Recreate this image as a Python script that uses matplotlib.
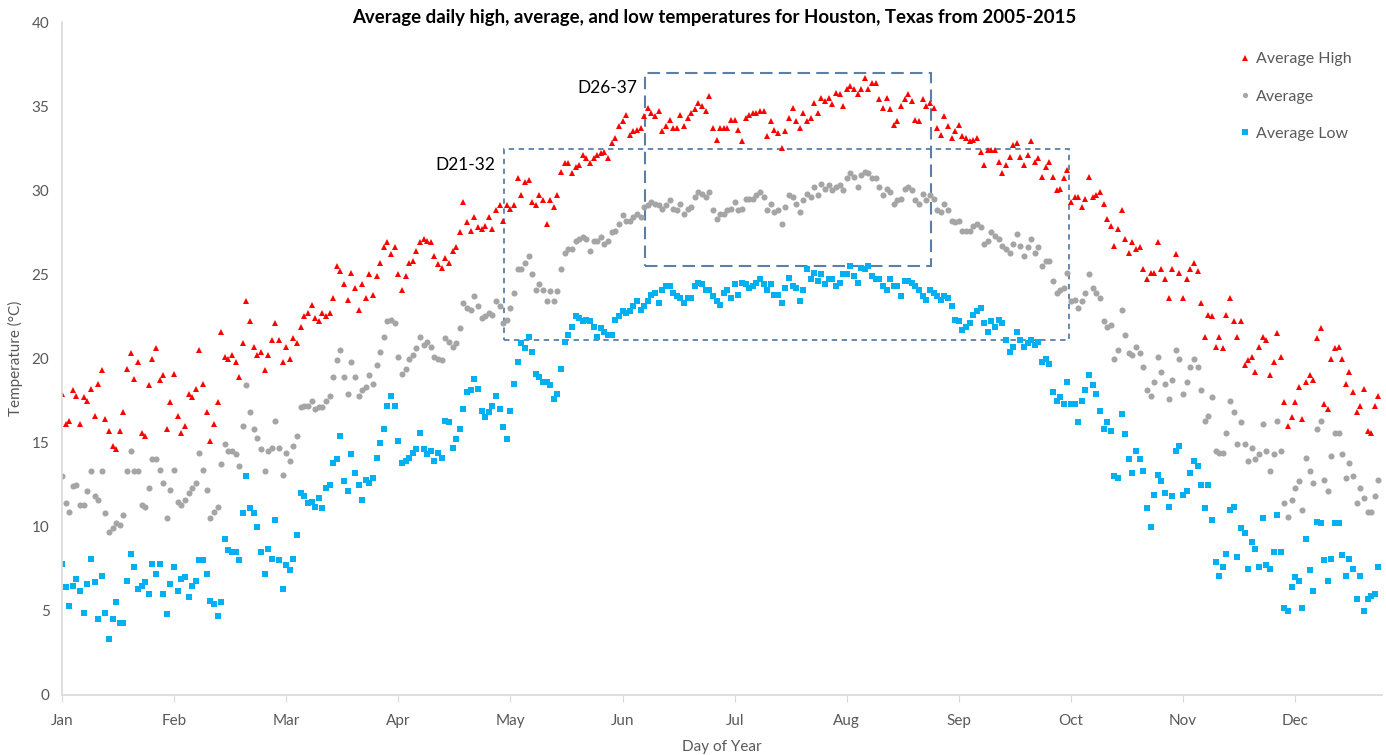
import numpy as np
import matplotlib
matplotlib.use("Agg")
import matplotlib.pyplot as plt
from matplotlib.patches import Rectangle

plt.rcParams['font.family'] = ['Lato', 'DejaVu Sans']

# daily values, split into chunks of days
high = [
    17.9,16.1,16.3,18.1,17.8,16.1,17.7,17.5,18.2,16.6,18.5,19.3,16.4,15.7,14.8,14.6,15.7,16.8,19.4,20.3,18.8,19.8,15.6,15.4,18.4,20.0,20.6,18.7,19.0,15.8,17.4,19.1,16.6,15.6,16.0,17.9,17.7,18.2,20.5,18.5,16.8,15.1,16.1,17.4,21.6,20.1,20.0,20.2,19.8,
    18.9,20.9,23.4,22.2,20.7,20.2,20.4,19.3,20.2,21.1,22.1,21.1,19.8,20.7,20.0,21.2,20.9,21.9,22.5,22.7,23.2,22.4,22.2,22.7,22.5,22.7,23.6,25.5,25.2,24.4,23.5,25.1,24.2,22.9,24.4,23.6,25.0,23.8,24.9,25.7,26.6,26.9,26.2,26.6,25.0,24.1,24.9,25.7,
    25.8,26.4,26.9,27.1,27.0,26.9,26.1,25.6,25.4,26.0,25.7,26.4,26.6,27.5,29.3,28.1,27.6,28.4,27.8,27.7,27.9,28.4,27.7,28.8,29.1,28.2,29.1,28.9,29.1,30.7,29.7,30.5,30.6,29.3,29.1,29.7,29.4,28.0,29.4,29.0,29.7,31.1,31.6,31.6,31.0,31.4,31.5,32.1,
    31.9,31.6,31.9,32.1,32.2,32.3,31.9,32.8,33.1,33.8,34.1,34.5,33.3,33.5,33.6,33.7,34.4,34.9,34.6,34.4,34.7,33.5,33.8,34.2,33.7,33.7,34.5,33.8,34.3,34.6,34.8,35.2,35.0,34.7,35.6,33.7,33.0,33.7,33.7,33.7,34.2,34.2,33.6,32.9,34.3,34.5,34.6,34.6,34.7,
    34.7,33.2,34.1,33.6,33.4,32.5,33.5,34.3,34.9,34.1,33.7,34.6,34.1,34.3,35.2,34.6,35.5,35.3,35.5,35.1,35.8,35.7,35.0,36.0,36.2,36.0,35.7,36.0,36.7,36.0,36.4,36.4,35.4,34.9,35.5,34.8,33.9,34.1,35.0,35.4,35.7,35.3,34.2,34.1,35.4,35.0,35.2,34.9,
    33.7,33.3,34.4,33.8,33.1,33.5,33.9,33.2,33.1,32.9,33.0,33.1,32.3,31.5,32.4,32.4,32.4,31.7,31.0,31.5,32.0,32.7,32.8,32.0,31.5,32.1,32.9,31.7,31.9,30.8,31.4,31.7,30.8,30.0,30.1,30.7,31.2,29.3,29.6,29.6,29.0,29.5,30.8,29.6,29.7,29.9,29.2,28.3,
    27.9,26.7,27.7,28.8,27.1,26.3,26.9,26.5,26.6,25.3,24.7,25.1,25.1,26.9,25.3,24.7,23.6,25.3,26.2,25.1,23.6,24.7,25.3,25.7,25.2,23.3,21.3,22.6,22.5,20.7,21.3,20.6,22.6,23.6,22.2,21.3,22.2,19.6,19.9,20.1,19.2,20.7,21.3,21.1,19.0,19.8,21.5,
    20.1,17.4,16.0,16.5,17.4,18.3,16.4,18.6,19.0,18.7,21.2,21.8,17.3,17.0,20.0,20.6,20.7,20.0,18.5,19.2,18.0,16.8,17.2,18.2,15.7,15.6,17.2,17.8,
]
average = [
    13.0,11.4,10.9,12.4,12.5,11.3,11.3,12.1,13.3,11.8,11.6,13.3,10.8,9.7,9.9,10.2,10.1,10.7,13.3,14.5,13.3,13.3,11.3,11.2,12.3,14.0,14.0,13.4,12.6,10.5,12.2,13.4,11.5,11.3,11.6,12.0,12.3,12.6,14.4,13.4,12.2,10.5,10.9,11.2,13.7,14.9,14.5,14.5,14.3,
    13.6,16.0,18.4,16.8,15.8,15.3,14.6,13.3,14.5,14.7,16.3,14.7,13.1,14.4,13.9,14.8,15.4,17.1,17.2,17.2,17.5,17.0,17.1,17.1,17.5,17.8,18.9,19.9,20.5,18.9,17.9,19.8,18.9,17.8,18.1,18.3,19.0,18.5,19.6,20.4,21.3,22.2,22.3,22.1,20.1,19.1,19.4,20.0,
    20.2,20.6,21.3,20.8,21.0,20.7,20.1,20.0,19.9,21.2,21.0,20.7,20.9,21.8,23.3,23.0,22.9,23.7,23.1,22.4,22.5,22.7,22.6,23.4,23.1,22.1,22.3,23.0,23.9,25.3,25.3,25.7,26.1,25.0,24.1,24.4,24.1,23.4,24.0,23.4,24.0,25.3,26.3,26.5,26.5,27.0,27.1,27.2,
    27.1,26.4,27.0,27.0,27.2,26.8,27.0,27.5,27.6,28.0,28.5,28.2,28.2,28.4,28.6,28.4,29.0,29.1,29.3,29.2,29.1,28.9,29.1,29.4,28.9,28.8,29.2,28.6,28.9,29.0,29.6,29.9,29.8,29.6,29.9,28.8,28.3,28.6,28.6,28.8,28.9,29.3,28.8,28.9,29.5,29.5,29.5,29.7,29.9,
    29.6,28.8,29.2,28.7,28.8,28.0,29.0,29.7,29.6,29.2,28.7,29.4,29.8,29.6,30.2,29.7,30.4,30.1,30.3,30.0,30.2,30.3,30.0,30.7,31.0,30.8,30.2,30.9,31.1,31.0,30.7,30.7,30.2,29.7,30.1,29.9,29.2,29.4,29.5,30.1,30.2,30.0,29.4,29.2,29.8,29.4,29.7,29.5,
    28.8,28.7,29.2,28.8,28.2,28.1,28.2,27.6,27.6,27.6,27.9,28.0,27.8,26.8,27.0,27.5,27.3,27.1,26.7,26.5,26.3,26.8,27.4,26.7,26.1,26.6,27.1,26.3,26.6,25.5,25.8,25.8,24.6,23.9,24.1,24.2,25.1,23.4,23.5,23.0,23.4,23.9,25.0,24.2,23.9,23.6,22.2,21.9,
    22.0,20.0,20.5,22.9,21.4,20.3,20.2,20.7,20.3,19.5,18.1,17.8,18.6,20.1,19.2,18.5,17.6,18.7,20.5,20.0,17.9,18.6,19.5,20.0,19.5,18.1,16.3,16.6,17.7,14.5,14.4,14.4,15.6,17.5,16.8,14.9,16.2,14.9,13.9,14.7,14.0,14.3,16.1,14.5,13.3,14.3,16.3,
    14.5,11.4,10.6,11.6,12.3,12.7,11.0,14.1,13.3,12.6,15.8,16.3,12.8,12.1,14.2,15.6,15.6,14.3,12.9,13.8,13.0,11.4,12.3,11.7,10.9,10.9,11.8,12.8,
]
low = [
    7.8,6.4,5.3,6.5,6.9,6.2,4.9,6.6,8.1,6.7,4.5,7.1,4.9,3.3,4.5,5.5,4.3,4.3,6.8,8.4,7.6,6.3,6.5,6.7,6.0,7.8,7.2,7.8,6.0,4.8,6.6,7.6,6.2,6.9,7.0,5.8,6.5,6.8,8.0,8.0,7.2,5.6,5.4,4.7,5.5,9.3,8.6,8.5,8.5,
    8.0,10.8,13.0,11.1,10.8,10.0,8.5,7.2,8.7,8.1,10.4,8.0,6.3,7.7,7.4,8.1,9.5,12.0,11.8,11.4,11.5,11.2,11.7,11.1,12.3,12.5,13.8,14.0,15.4,12.7,12.1,14.3,13.2,12.5,11.6,12.8,12.6,12.9,14.1,15.0,15.8,17.2,17.8,17.2,15.1,13.8,13.9,14.1,
    14.4,14.6,15.6,14.6,14.3,14.5,13.9,14.4,14.1,16.3,16.2,14.7,15.2,15.8,17.0,18.0,18.1,18.8,18.2,16.9,16.5,16.8,17.2,17.8,17.0,15.9,15.2,16.9,18.5,19.8,20.9,20.6,21.3,20.4,19.1,18.9,18.6,18.6,18.4,17.6,17.9,19.4,21.0,21.4,21.9,22.5,22.4,22.2,
    22.3,22.2,21.9,21.3,21.8,21.6,21.4,21.4,22.3,22.5,22.8,22.7,22.8,23.1,23.4,22.9,23.1,23.4,23.8,23.9,23.3,24.1,24.3,24.3,23.9,23.7,23.6,23.3,23.6,23.6,24.3,24.5,24.4,24.1,24.1,23.7,23.4,23.2,23.9,24.1,23.6,24.4,23.8,24.5,24.4,24.2,24.3,24.5,24.7,
    24.4,24.1,24.4,23.8,23.8,23.3,24.2,24.8,24.3,24.2,23.4,24.1,25.3,24.7,25.1,24.6,25.0,24.4,24.7,24.7,24.3,24.5,25.0,25.0,25.5,24.9,24.5,25.4,25.3,25.5,24.9,24.7,24.7,24.3,24.1,24.7,24.3,24.3,23.7,24.6,24.6,24.5,24.3,24.1,23.7,23.5,24.1,23.9,
    23.7,23.5,23.7,23.6,23.1,22.3,22.2,21.7,21.9,22.1,22.6,22.8,23.0,22.1,21.6,22.2,21.9,22.3,22.1,21.1,20.4,20.7,21.6,21.1,20.7,20.9,21.1,20.8,21.0,19.8,20.0,19.7,18.0,17.5,17.7,17.3,18.6,17.3,17.3,16.2,17.5,18.1,19.0,18.4,17.9,16.9,15.8,16.2,
    15.7,13.0,12.9,16.7,15.5,14.0,13.2,14.5,14.0,13.3,11.1,10.0,11.9,13.1,12.7,12.0,11.2,11.8,14.5,14.8,11.9,12.1,13.2,13.9,13.6,12.5,11.1,12.5,10.4,7.9,7.1,7.6,8.4,11.0,11.2,8.2,9.9,9.6,7.5,9.1,8.7,7.6,10.5,7.7,7.5,8.5,10.7,
    8.5,5.2,5.0,6.4,7.0,6.8,5.2,9.3,7.4,6.2,10.3,10.2,8.0,6.8,8.1,10.2,10.2,8.3,7.1,8.1,7.5,5.7,7.1,5.0,5.7,5.9,6.0,7.6,
]
months = ["Jan", "Feb", "Mar", "Apr", "May", "Jun", "Jul", "Aug", "Sep", "Oct", "Nov", "Dec"]

fig = plt.figure(figsize=(13.86, 7.55), dpi=100)
ax = fig.add_axes([62/1386, 60/755, 1320/1386, 673/755])

ax.plot(np.arange(1, len(high)+1), high, '^', color='#ff0000', ms=4.8, mew=0, label='Average High')
ax.plot(np.arange(1, len(average)+1), average, 'o', color='#a5a5a5', ms=4.4, mew=0, label='Average')
ax.plot(np.arange(1, len(low)+1), low, 's', color='#00b0f0', ms=4.4, mew=0, label='Average Low')

# dashed boxes
ax.add_patch(Rectangle((123.2, 21.1), 156.3, 11.35, fill=False, ec='#5a7fa8', lw=1.3, ls=(0, (3, 2.5))))
ax.add_patch(Rectangle((162.2, 25.5), 79.1, 11.45, fill=False, ec='#5a7fa8', lw=1.5, ls=(0, (6, 3))))
ax.text(120.8, 31.5, "D21-32", ha='right', va='center', fontsize=12.5)
ax.text(160.0, 36.1, "D26-37", ha='right', va='center', fontsize=12.5)

ax.set_xlim(1, 366)
ax.set_ylim(0, 40)
ax.set_xticks(np.arange(1, 366, 31)[:12])
ax.set_xticklabels(months)
ax.set_yticks(np.arange(0, 41, 5))

for s in ['top', 'right']:
    ax.spines[s].set_visible(False)
for s in ['left', 'bottom']:
    ax.spines[s].set_color('#d9d9d9')
    ax.spines[s].set_linewidth(1.2)
ax.tick_params(axis='x', colors='#d9d9d9', labelcolor='#595959', labelsize=11, length=5, pad=9)
ax.tick_params(axis='y', length=0, labelcolor='#595959', labelsize=11, pad=9)

ax.set_xlabel("Day of Year", fontsize=11, color='#595959', labelpad=8)
ax.set_ylabel("Temperature (°C)", fontsize=11, color='#595959', labelpad=6)
fig.text(0.515, 1 - 18/755, "Average daily high, average, and low temperatures for Houston, Texas from 2005-2015",
         ha='center', va='center', fontsize=13.4, fontweight='bold')

leg = ax.legend(loc='upper right', bbox_to_anchor=(1360/1386, 1 - 44/755), bbox_transform=fig.transFigure,
                frameon=False, fontsize=11.5, labelcolor='#595959', labelspacing=1.45, handletextpad=0.2,
                handlelength=1.0, markerscale=0.85, borderpad=0)

fig.savefig("out.png", dpi=100)
